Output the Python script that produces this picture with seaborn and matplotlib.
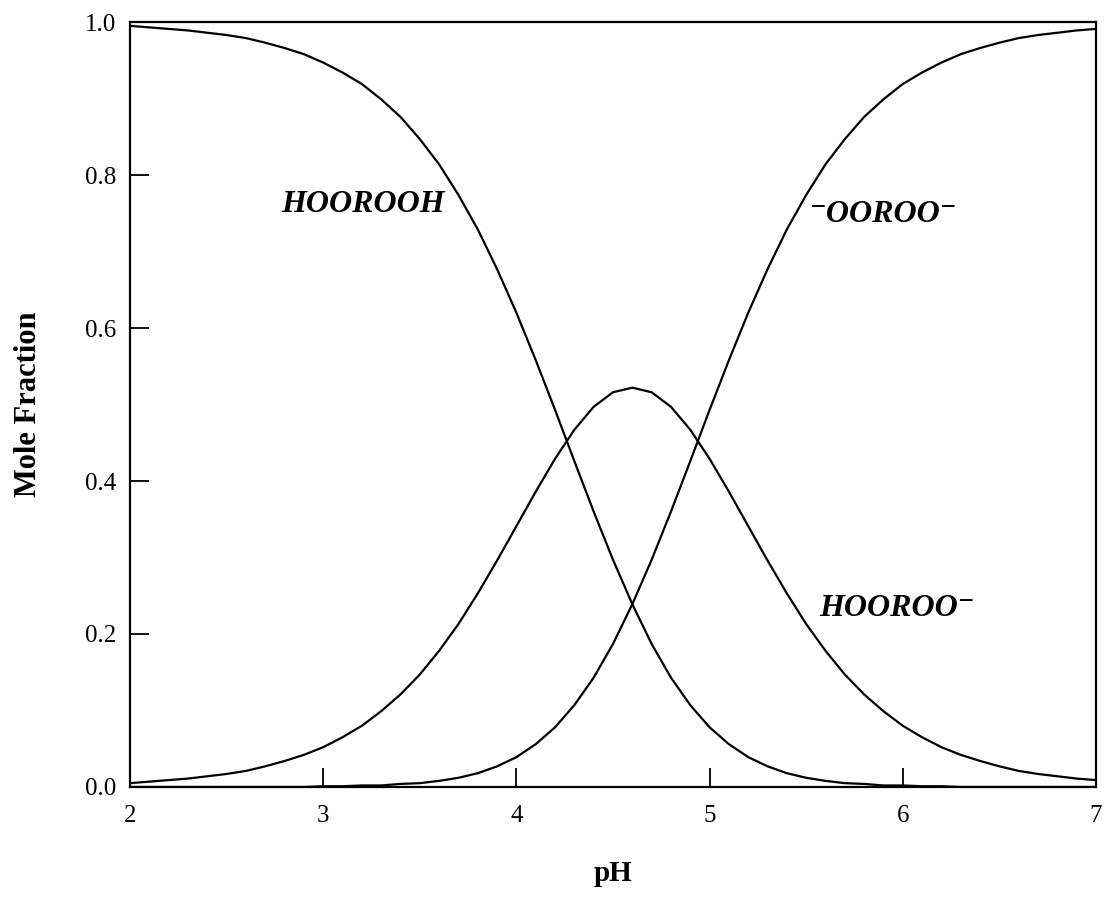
import numpy as np
import pandas as pd
import matplotlib
matplotlib.use("Agg")
import matplotlib.pyplot as plt
import seaborn as sns

# values
ph = [round(2.0 + 0.1 * i, 1) for i in range(51)]
hoorooh = [0.995, 0.993, 0.991, 0.989, 0.986, 0.983, 0.979, 0.973, 0.966, 0.958,
           0.947, 0.934, 0.919, 0.899, 0.876, 0.847, 0.814, 0.774, 0.729, 0.677,
           0.620, 0.558, 0.493, 0.426, 0.360, 0.297, 0.239, 0.187, 0.143, 0.107,
           0.078, 0.056, 0.039, 0.027, 0.018, 0.012, 0.008, 0.005, 0.004, 0.002,
           0.002, 0.001, 0.001, 0.0, 0.0, 0.0, 0.0, 0.0, 0.0, 0.0, 0.0]
hooroo = [0.005, 0.007, 0.009, 0.011, 0.014, 0.017, 0.021, 0.027, 0.034, 0.042,
          0.052, 0.065, 0.080, 0.099, 0.121, 0.147, 0.178, 0.213, 0.253, 0.296,
          0.341, 0.386, 0.429, 0.467, 0.497, 0.516, 0.522, 0.516, 0.497, 0.467,
          0.429, 0.386, 0.341, 0.296, 0.253, 0.213, 0.178, 0.147, 0.121, 0.099,
          0.080, 0.065, 0.052, 0.042, 0.034, 0.027, 0.021, 0.017, 0.014, 0.011, 0.009]
ooroo = [0.0, 0.0, 0.0, 0.0, 0.0, 0.0, 0.0, 0.0, 0.0, 0.0,
         0.001, 0.001, 0.002, 0.002, 0.004, 0.005, 0.008, 0.012, 0.018, 0.027,
         0.039, 0.056, 0.078, 0.107, 0.143, 0.187, 0.239, 0.297, 0.360, 0.426,
         0.493, 0.558, 0.620, 0.677, 0.729, 0.774, 0.814, 0.847, 0.876, 0.899,
         0.919, 0.934, 0.947, 0.958, 0.966, 0.973, 0.979, 0.983, 0.986, 0.989, 0.991]

species = ["HOOROOH", "HOOROO\u207b", "\u207bOOROO\u207b"]
label_x = [3.207, 5.97, 5.90]
label_y = [0.762, 0.233, 0.748]
x_ticks = [2, 3, 4, 5, 6, 7]
y_ticks = [0.0, 0.2, 0.4, 0.6, 0.8, 1.0]

df = pd.DataFrame({"pH": ph * 3,
                   "frac": hoorooh + hooroo + ooroo,
                   "species": np.repeat(species, len(ph))})

sns.set_style("ticks")
plt.rcParams["font.family"] = ["Liberation Serif", "DejaVu Serif"]
plt.rcParams["text.color"] = "black"
plt.rcParams["axes.labelcolor"] = "black"

fig = plt.figure(figsize=(11.1, 8.99), dpi=100)
ax = fig.add_axes([0.1171, 0.1246, 0.8703, 0.8509])

sns.lineplot(data=df, x="pH", y="frac", hue="species",
             palette=["black"] * 3, linewidth=1.6, legend=False, ax=ax)

for name, lx, ly in zip(species, label_x, label_y):
    ax.text(lx, ly, name, fontsize=23, fontstyle="italic", fontweight="bold",
            ha="center", va="center", family=["Liberation Serif", "DejaVu Serif"])

ax.set_xlim(2, 7)
ax.set_ylim(0, 1)
ax.set_xticks(x_ticks)
ax.set_xticklabels([str(t) for t in x_ticks])
ax.set_yticks(y_ticks)
ax.set_yticklabels([f"{t:.1f}" for t in y_ticks])
ax.tick_params(direction="in", length=14, width=1.3, labelsize=18, colors="black")
ax.tick_params(axis="x", pad=13)
ax.tick_params(axis="y", pad=10)
for s in ax.spines.values():
    s.set_linewidth(1.6)
    s.set_color("black")

ax.set_xlabel("pH", fontsize=21, fontweight="bold", labelpad=24)
ax.set_ylabel("Mole Fraction", fontsize=22, fontweight="bold", labelpad=30)

fig.savefig("out.png", dpi=100, facecolor="white")
